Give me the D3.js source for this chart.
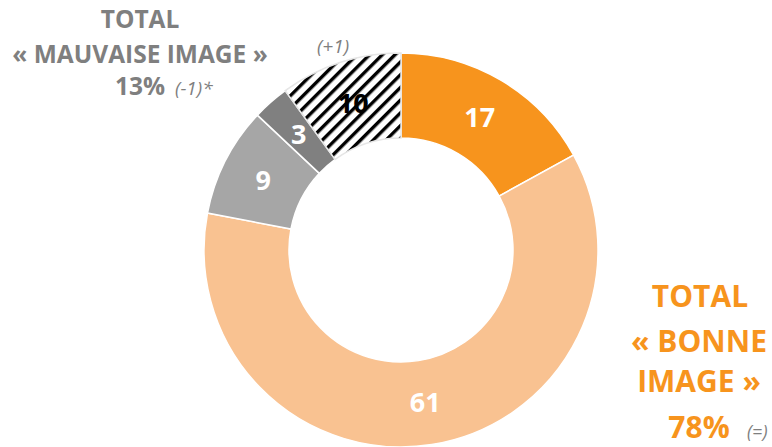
<!DOCTYPE html>
<html><head><meta charset="utf-8">
<script src="https://cdn.jsdelivr.net/npm/d3@7"></script>
<style>
html,body{margin:0;padding:0;background:#fff;}
svg{display:block;font-family:"Open Sans",sans-serif;}
</style></head>
<body>
<svg id="chart" width="772" height="447"></svg>
<script>
const categories = ["Très bonne image", "Plutôt bonne image", "Plutôt mauvaise image", "Très mauvaise image", "Ne connaît pas"];
const values = [17, 61, 9, 3, 10];
const colors = ["#F7941D", "#F9C291", "#A6A6A6", "#808080", "hatch"];
const labelColors = ["#fff", "#fff", "#fff", "#fff", "#000"];

const svg = d3.select("#chart");
const cx = 401, cy = 250, rOuter = 197, rInner = 112;

const defs = svg.append("defs");
const pat = defs.append("pattern").attr("id", "hatch")
  .attr("patternUnits", "userSpaceOnUse").attr("width", 9).attr("height", 9)
  .attr("patternTransform", "rotate(45)");
pat.append("rect").attr("width", 9).attr("height", 9).attr("fill", "#fff");
pat.append("rect").attr("x", 0).attr("y", 0).attr("width", 3.4).attr("height", 9).attr("fill", "#000");

const pie = d3.pie().sort(null).value(d => d)(values);
const arc = d3.arc().innerRadius(rInner).outerRadius(rOuter);
const g = svg.append("g").attr("transform", `translate(${cx},${cy})`);

g.selectAll("path.slice").data(pie).join("path")
  .attr("class", "slice")
  .attr("d", arc)
  .attr("fill", (d, i) => colors[i] === "hatch" ? "url(#hatch)" : colors[i])
  .attr("stroke", (d, i) => colors[i] === "hatch" ? "#e6e6e6" : "#fff")
  .attr("stroke-width", 1.5);

g.selectAll("text.val").data(pie).join("text")
  .attr("class", "val")
  .attr("transform", d => `translate(${arc.centroid(d)})`)
  .attr("text-anchor", "middle").attr("dy", "0.36em")
  .attr("font-weight", 700).attr("font-size", 27)
  .attr("fill", (d, i) => labelColors[i])
  .text(d => d.data);

const grey = "#7F7F7F", orange = "#F7941D";
function t(x, y, str, opts) {
  return svg.append("text").attr("x", x).attr("y", y)
    .attr("text-anchor", opts.anchor || "middle")
    .attr("font-size", opts.size).attr("font-weight", opts.weight || 700)
    .attr("font-style", opts.italic ? "italic" : "normal")
    .attr("fill", opts.color).text(str);
}
t(140, 28, "TOTAL", {size: 24.5, color: grey});
t(140, 63, "« MAUVAISE IMAGE »", {size: 24.5, color: grey});
t(140, 95, "13%", {size: 24.5, color: grey});
t(175, 95, "(-1)*", {size: 19, color: grey, weight: 400, italic: true, anchor: "start"});
t(333, 53, "(+1)", {size: 19, color: grey, weight: 400, italic: true});

t(700, 307, "TOTAL", {size: 30, color: orange});
t(699, 352, "« BONNE", {size: 30, color: orange});
t(699, 392, "IMAGE »", {size: 30, color: orange});
t(699, 438, "78%", {size: 30, color: orange});
t(747, 438, "(=)", {size: 18, color: grey, weight: 400, italic: true, anchor: "start"});
</script>
</body></html>
